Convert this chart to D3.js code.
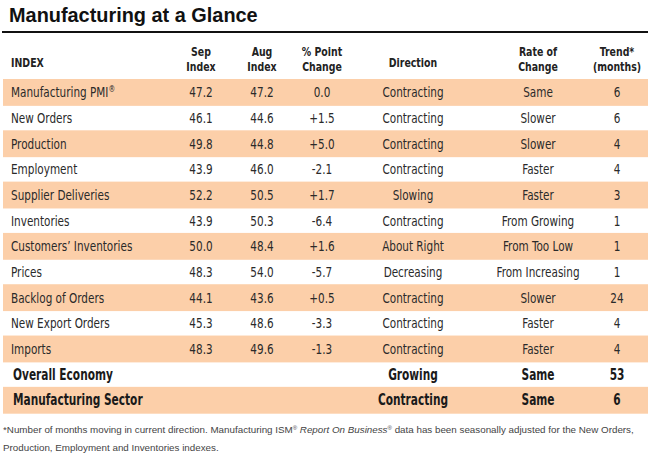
<!DOCTYPE html>
<html><head><meta charset="utf-8">
<script src="https://cdn.jsdelivr.net/npm/d3@7/dist/d3.min.js"></script>
<style>
body{margin:0;background:#fff;}
svg{display:block;}
.cond{font-family:"Liberation Sans Narrow","DejaVu Sans Condensed","Arial Narrow",sans-serif;}
</style></head>
<body>
<script>
const indexNames = ["Manufacturing PMI®","New Orders","Production","Employment","Supplier Deliveries","Inventories","Customers’ Inventories","Prices","Backlog of Orders","New Export Orders","Imports"];
const sepIndex = ["47.2","46.1","49.8","43.9","52.2","43.9","50.0","48.3","44.1","45.3","48.3"];
const augIndex = ["47.2","44.6","44.8","46.0","50.5","50.3","48.4","54.0","43.6","48.6","49.6"];
const pointChange = ["0.0","+1.5","+5.0","-2.1","+1.7","-6.4","+1.6","-5.7","+0.5","-3.3","-1.3"];
const direction = ["Contracting","Contracting","Contracting","Contracting","Slowing","Contracting","About Right","Decreasing","Contracting","Contracting","Contracting"];
const rateOfChange = ["Same","Slower","Slower","Faster","Faster","From Growing","From Too Low","From Increasing","Slower","Faster","Faster"];
const trendMonths = ["6","6","4","4","3","1","1","1","24","4","4"];
const summaryNames = ["Overall Economy","Manufacturing Sector"];
const summaryDirection = ["Growing","Contracting"];
const summaryRate = ["Same","Same"];
const summaryTrend = ["53","6"];
const headers = [["INDEX"],["Sep","Index"],["Aug","Index"],["% Point","Change"],["Direction"],["Rate of","Change"],["Trend*","(months)"]];

const W=655,H=472;
const svg=d3.select("body").append("svg").attr("width",W).attr("height",H);

const rows = indexNames.map((n,i)=>({name:n,vals:[sepIndex[i],augIndex[i],pointChange[i],direction[i],rateOfChange[i],trendMonths[i]],bold:false}))
  .concat(summaryNames.map((n,i)=>({name:n,vals:["","","",summaryDirection[i],summaryRate[i],summaryTrend[i]],bold:true})));

const y=d3.scaleBand().domain(d3.range(rows.length)).range([79.5,413]).paddingInner(0);
const colX=[11,201,262,322,413,538,617];
const orange="#fccfa9";

// helper: condensed text via horizontal scale
function ctext(parent,x,yy,sx,opts){
  const t=parent.append("text").attr("class","cond")
    .attr("transform",`translate(${x},${yy}) scale(${sx},1)`)
    .attr("font-size",opts.size).attr("font-weight",opts.bold?"bold":"normal")
    .attr("fill",opts.fill||"#2a2a2a").attr("text-anchor",opts.anchor||"start");
  return t;
}

// title
svg.append("text").attr("x",9).attr("y",22).attr("font-family","Liberation Sans, Arial, sans-serif")
  .attr("font-weight","bold").attr("font-size",19.9).attr("fill","#111").text("Manufacturing at a Glance");
svg.append("line").attr("x1",2).attr("x2",648).attr("y1",32).attr("y2",32).attr("stroke","#111").attr("stroke-width",2.2);

// header
headers.forEach((h,j)=>{
  if(h.length===1){
    ctext(svg,colX[j],67,0.87,{size:12,bold:true,fill:"#222",anchor:j===0?"start":"middle"}).text(h[0]);
  } else {
    h.forEach((s,k)=>ctext(svg,colX[j],56+k*14.5,0.87,{size:12,bold:true,fill:"#222",anchor:"middle"}).text(s));
  }
});

// bands
svg.selectAll("rect.band").data(rows.map((r,i)=>i).filter(i=>i%2===0)).join("rect")
  .attr("class","band").attr("x",3).attr("width",645).attr("y",i=>y(i)-0.5).attr("height",y.bandwidth()+1.2).attr("fill",orange);

rows.forEach((d,i)=>{
  const yy=y(i)+y.bandwidth()/2+5;
  const size=d.bold?15:14, sx=d.bold?0.785:0.83;
  const t=ctext(svg,d.bold?13:11,yy,sx,{size:size,bold:d.bold,fill:d.bold?"#1a1a1a":"#2a2a2a"});
  if(d.name.endsWith("®")){t.text(d.name.slice(0,-1));t.append("tspan").attr("font-size",9).attr("dy",-5).text("®");}
  else t.text(d.name);
  d.vals.forEach((v,j)=>{
    if(!v) return;
    ctext(svg,colX[j+1],yy,sx,{size:size,bold:d.bold,fill:d.bold?"#1a1a1a":"#2a2a2a",anchor:"middle"}).text(v);
  });
});

// footnote
const fn=svg.append("text").attr("font-family","Liberation Sans, Arial, sans-serif").attr("font-size",9.8).attr("fill","#444");
const l1=fn.append("tspan").attr("x",3).attr("y",433);
l1.append("tspan").text("*Number of months moving in current direction. Manufacturing ISM");
l1.append("tspan").attr("font-size",6).attr("dy",-3).text("®");
l1.append("tspan").attr("dy",3).text(" ");
l1.append("tspan").attr("font-style","italic").text("Report On Business");
l1.append("tspan").attr("font-size",6).attr("dy",-3).text("®");
l1.append("tspan").attr("dy",3).text(" data has been seasonally adjusted for the New Orders,");
fn.append("tspan").attr("x",3).attr("y",451).text("Production, Employment and Inventories indexes.");
</script>
</body></html>
